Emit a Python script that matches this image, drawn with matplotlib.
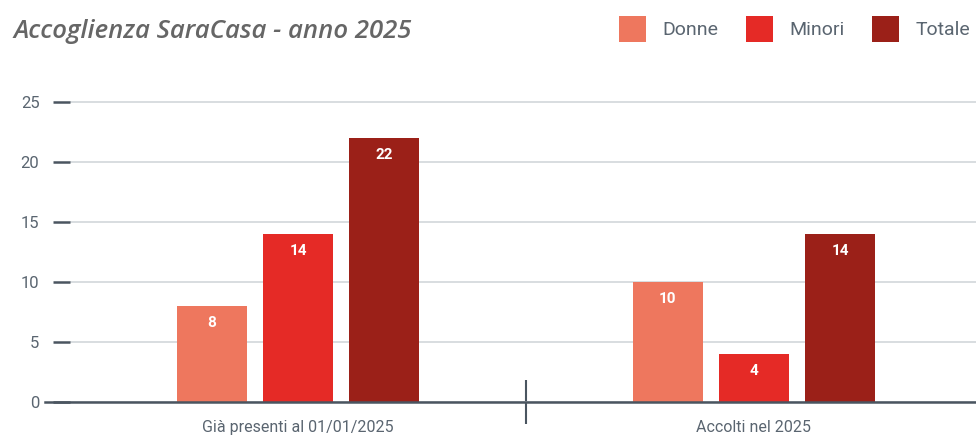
import numpy as np
import matplotlib
matplotlib.use('Agg')
import matplotlib.pyplot as plt
from matplotlib.patches import Patch

categories = ['Già presenti al 01/01/2025', 'Accolti nel 2025']
series_names = ['Donne', 'Minori', 'Totale']
donne = [8, 10]
minori = [14, 4]
totale = [22, 14]
yticks = [0, 5, 10, 15, 20, 25]

colors = ['#EE775E', '#E52A26', '#9B2018']
text_grey = '#5a6570'
axis_dark = '#4a5560'

plt.rcParams['font.family'] = ['Roboto', 'DejaVu Sans']

fig = plt.figure(figsize=(9.76, 4.36), dpi=100)
W, H = 976, 436
# axes from x=70px, 456px per category; y=0 at 402px, 12px per unit
ax = fig.add_axes([70 / W, (H - 402) / H, 912 / W, 312 / H])

x = np.arange(len(categories))
bw = 0.153
step = 0.189
for i, (vals, name, c) in enumerate(zip([donne, minori, totale], series_names, colors)):
    pos = x + (i - 1) * step
    bars = ax.bar(pos, vals, width=bw, color=c, label=name, zorder=3)
    for b, v in zip(bars, vals):
        ax.annotate(str(v), (b.get_x() + b.get_width() / 2, b.get_height()),
                    xytext=(0, -7), textcoords='offset points',
                    ha='center', va='top', color='white', fontsize=11,
                    fontweight='bold', zorder=4)

ax.set_xlim(-0.5, 1.5)
ax.set_ylim(0, 26)
ax.set_yticks(yticks)
ax.set_yticklabels([str(t) for t in yticks])
ax.yaxis.grid(True, color='#d6dadd', linewidth=1.3, zorder=0)
ax.set_xticks(x)
ax.set_xticklabels(categories)
ax.set_xticks([0.5], minor=True)

for s in ['top', 'right', 'left', 'bottom']:
    ax.spines[s].set_visible(False)
ax.axhline(0, xmin=-25 / 912, xmax=1, color=axis_dark, linewidth=1.8,
           clip_on=False, zorder=5)

ax.tick_params(axis='y', length=12, width=1.8, color=axis_dark, pad=10,
               labelsize=12, labelcolor=text_grey)
ax.tick_params(axis='x', which='major', length=0, pad=13,
               labelsize=11.5, labelcolor=text_grey)
ax.tick_params(axis='x', which='minor', direction='inout', length=32,
               width=1.5, color=axis_dark)

fig.text(14 / W, 1 - 32 / H, 'Accoglienza SaraCasa - anno 2025',
         family=['Open Sans', 'DejaVu Sans'], style='italic', weight='semibold',
         fontsize=18.5, color='#666666', va='center', ha='left')

handles = [Patch(facecolor=c, edgecolor='none') for c in colors]
leg = fig.legend(handles, series_names, loc='upper right',
                 bbox_to_anchor=(978 / W, 1 - 8 / H), ncol=3, frameon=False,
                 fontsize=14, handlelength=1.4, handleheight=1.7,
                 handletextpad=0.85, columnspacing=1.4, borderaxespad=0)
for t in leg.get_texts():
    t.set_color(text_grey)

fig.savefig('out.png', dpi=100)
